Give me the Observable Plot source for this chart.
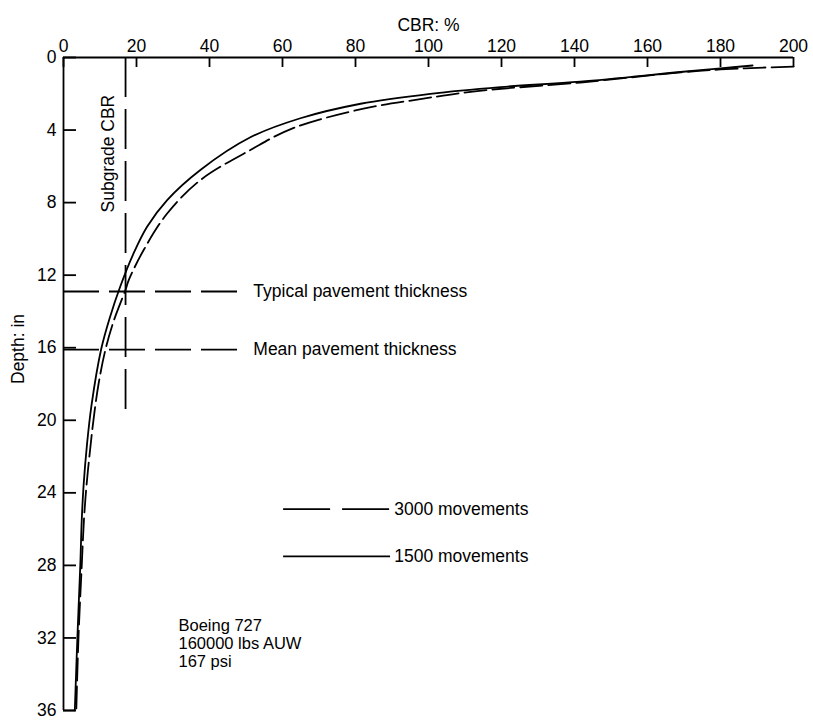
<!DOCTYPE html>
<html>
<head>
<meta charset="utf-8">
<script src="https://cdn.jsdelivr.net/npm/d3@7"></script>
<script src="https://cdn.jsdelivr.net/npm/@observablehq/plot@0.6"></script>
<style>
  html, body { margin: 0; padding: 0; background: #fff; }
</style>
</head>
<body>
<div id="chart"></div>
<script>
const xTicks = [0, 20, 40, 60, 80, 100, 120, 140, 160, 180, 200];
const yTicks = [0, 4, 8, 12, 16, 20, 24, 28, 32, 36];

// 1500 movements (solid)
const solidCBR   = [188.8, 180, 169, 141.6, 119.7, 100.5, 81.4, 64.9, 51.2, 37.5, 28.4, 22.9, 19.2, 15.6, 12.6, 10.3, 7.65, 6.45, 5.5, 5.0, 4.6, 3.8, 3.1];
const solidDepth = [0.44, 0.6, 0.8, 1.33, 1.63, 2.0, 2.55, 3.35, 4.4, 6.2, 7.86, 9.33, 10.8, 12.6, 14.4, 16.1, 19.2, 21.3, 23.6, 25.5, 28.0, 32.0, 36];

// 3000 movements (dashed)
const dashCBR   = [200, 190, 180, 169, 141.6, 113.3, 98.6, 82.2, 62.6, 51.2, 37.5, 28.4, 22.0, 17.9, 17.0, 13.8, 11.5, 9.6, 8.2, 7.3, 6.3, 5.6, 5.0, 4.1, 3.5];
const dashDepth = [0.5, 0.57, 0.66, 0.82, 1.38, 1.85, 2.27, 2.82, 3.92, 5.1, 6.76, 8.6, 10.6, 12.26, 12.8, 14.5, 16.1, 18.0, 20.0, 21.6, 23.6, 25.5, 28.0, 32.0, 36];

const subgradeCBR = 17;
const subgradeDepthEnd = 20;
const thicknessNames = ["Typical pavement thickness", "Mean pavement thickness"];
const thicknessDepth = [12.9, 16.1];
const thicknessLineEnd = 49.3;
const thicknessLabelX = 52;

const legendNames = ["3000 movements", "1500 movements"];
const legendDepth = [24.9, 27.5];
const legendX1 = 60.3, legendX2 = 89.6, legendTextX = 90.6;

const noteLines = ["Boeing 727", "160000 lbs AUW", "167 psi"];
const noteDepth = 32.3;
const noteX = 31.5;

const solid = solidCBR.map((x, i) => ({x, y: solidDepth[i]}));
const dashed = dashCBR.map((x, i) => ({x, y: dashDepth[i]}));
const thick = thicknessNames.map((name, i) => ({name, y: thicknessDepth[i]}));
const legend = legendNames.map((name, i) => ({name, y: legendDepth[i]}));

const SW = 1.8;
const FS = 17.5;
const chart = Plot.plot({
  width: 813,
  height: 720,
  marginLeft: 63,
  marginTop: 57,
  marginRight: 20,
  marginBottom: 10,
  style: {fontFamily: "'Liberation Sans Narrow', 'Liberation Sans', Arial, sans-serif", fontSize: FS + "px", color: "#000", background: "#fff"},
  x: {domain: [0, 200]},
  y: {domain: [0, 36], reverse: true},
  marks: [
    Plot.axisX({anchor: "top", ticks: xTicks, tickSize: 0, tickPadding: 6, label: null, fontSize: FS}),
    Plot.axisY({anchor: "left", ticks: yTicks, tickSize: 0, tickPadding: 7, label: null, fontSize: FS}),
    Plot.ruleX(xTicks, {stroke: "#000", strokeWidth: SW, insetBottom: 643}),
    Plot.ruleY(yTicks, {stroke: "#000", strokeWidth: SW, insetRight: 730 - 13}),
    Plot.ruleY([0], {stroke: "#000", strokeWidth: SW}),
    Plot.ruleX([0], {stroke: "#000", strokeWidth: SW}),
    Plot.ruleY([36], {x1: 0, x2: solidCBR[solidCBR.length - 1], stroke: "#000", strokeWidth: SW}),
    Plot.text(["CBR: %"], {frameAnchor: "top", dy: -39, fontSize: FS}),
    Plot.text(["Depth: in"], {frameAnchor: "left", dx: -45, rotate: -90, fontSize: FS}),
    // subgrade line
    Plot.ruleX([subgradeCBR], {y1: 0, y2: subgradeDepthEnd, stroke: "#000", strokeWidth: SW, strokeDasharray: "40,12"}),
    Plot.text(["Subgrade CBR"], {x: 12.2, y: 5.3, rotate: -90, fontSize: FS}),
    // thickness lines
    Plot.ruleY(thick, {y: "y", x1: 0, x2: thicknessLineEnd, stroke: "#000", strokeWidth: SW, strokeDasharray: "36,10"}),
    Plot.text(thick, {x: thicknessLabelX, y: "y", text: "name", textAnchor: "start", fontSize: FS}),
    // curves
    Plot.line(solid, {x: "x", y: "y", curve: "catmull-rom", stroke: "#000", strokeWidth: SW}),
    Plot.line(dashed, {x: "x", y: "y", curve: "catmull-rom", stroke: "#000", strokeWidth: SW, strokeDasharray: "22,6"}),
    // legend
    Plot.ruleY(legend.slice(0, 1), {y: "y", x1: legendX1, x2: legendX2, stroke: "#000", strokeWidth: SW, strokeDasharray: "47,12"}),
    Plot.ruleY(legend.slice(1), {y: "y", x1: legendX1, x2: legendX2, stroke: "#000", strokeWidth: SW}),
    Plot.text(legend, {x: legendTextX, y: "y", text: "name", textAnchor: "start", fontSize: FS}),
    // note
    Plot.text([noteLines.join("\n")], {x: noteX, y: noteDepth, textAnchor: "start", lineAnchor: "middle", lineHeight: 1.08, fontSize: 16.5})
  ]
});
document.getElementById("chart").appendChild(chart);
</script>
</body>
</html>
